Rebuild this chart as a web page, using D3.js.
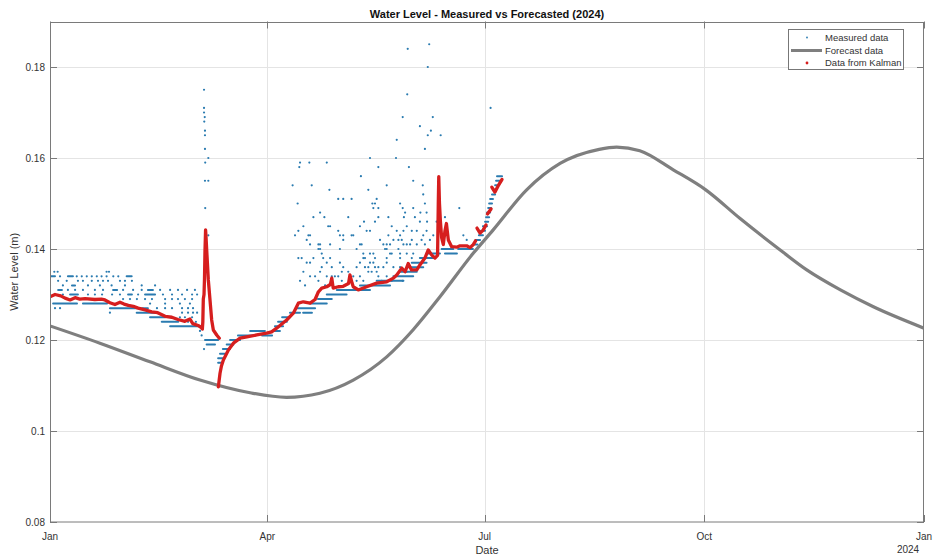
<!DOCTYPE html>
<html>
<head>
<meta charset="utf-8">
<script src="https://cdn.jsdelivr.net/npm/d3@7"></script>
<style>
  body { margin: 0; background: #ffffff; }
  svg { display: block; font-family: "Liberation Sans", Arial, Helvetica, sans-serif; }
</style>
</head>
<body>
<svg id="chart" width="935" height="559"></svg>
<script>
// Times are days counted from 1 Jan 2024 (fractions allowed).

// Forecast curve (m)
const forecastDays  = [0, 20.9, 41.9, 62.8, 83.8, 99, 113, 127, 141, 152, 163.3, 177.3, 185.6, 199.6, 213.6, 230, 237.3, 247, 261, 274.6, 289, 304, 316.9, 331, 344.8, 366];
const forecastLevel = [0.1231, 0.1193, 0.1152, 0.1112, 0.1084, 0.1074, 0.1083, 0.1112, 0.1163, 0.1222, 0.1295, 0.1391, 0.1442, 0.1530, 0.1588, 0.1619, 0.1624, 0.1616, 0.1574, 0.1530, 0.1467, 0.1405, 0.1354, 0.1310, 0.1273, 0.1226];

// Kalman filter output, one array per continuous stretch: [day, level (m)]
const kalmanWinter = [
  [0,0.1295],[2.1,0.1300],[4.5,0.1297],[6.3,0.1292],[8.4,0.1288],[10.5,0.1293],[12.5,0.1290],[14.7,0.1291],
  [18.8,0.1289],[21.5,0.1290],[23.0,0.1288],[25.1,0.1282],[27.2,0.1278],[29.3,0.1283],[31.0,0.1279],[32.8,0.1276],
  [34.9,0.1274],[36.9,0.1270],[39.8,0.1266],[42.6,0.1262],[45.1,0.1260],[48.2,0.1252],[51.0,0.1250],[53.6,0.1245],
  [56.5,0.1241],[58.6,0.1246],[59.8,0.1236],[62.0,0.1232],[63.2,0.1228],[63.8,0.1224],
  [64.0,0.1240],[64.2,0.1290],[64.5,0.1300],[64.7,0.1335],[64.9,0.1395],[65.15,0.1442],[65.3,0.1430],[65.7,0.1390],
  [66.3,0.1332],[67.0,0.1288],[67.7,0.1244],[68.4,0.1222],[69.8,0.1211],[70.9,0.1204]
];
const kalmanSpring = [
  [70.5,0.1097],[70.8,0.1110],[71.2,0.1127],[71.8,0.1143],[72.6,0.1156],[74.7,0.1178],[76.8,0.1193],[79.6,0.1204],
  [82.4,0.1207],[86.6,0.1211],[90.7,0.1215],[92.8,0.1218],[94.9,0.1226],[99.1,0.1244],[101.9,0.1259],[104.0,0.1281],
  [106.1,0.1284],[108.9,0.1281],[111.0,0.1289],[112.4,0.1306],[113.8,0.1314],[115.9,0.1317],[117.4,0.1322],[118.0,0.1336],
  [118.6,0.1314],[120.7,0.1317],[122.8,0.1318],[125.0,0.1324],[125.6,0.1343],[126.5,0.1325],[127.0,0.1317],[129.1,0.1310],
  [132.6,0.1317],[136.8,0.1325],[141.0,0.1328],[143.8,0.1336],[145.2,0.1343],[147.3,0.1358],[148.7,0.1350],[150.0,0.1368],
  [151.4,0.1354],[153.6,0.1354],[154.9,0.1365],[157.0,0.1380],[158.4,0.1398],[159.8,0.1387],[161.2,0.1380],[162.3,0.1386],
  [162.6,0.1500],[162.8,0.1559],[163.1,0.1500],[163.5,0.1460],[164.0,0.1425],[164.7,0.1410],[165.4,0.1440],[166.0,0.1456],
  [166.8,0.1420],[168.2,0.1405],[170.3,0.1404],[171.7,0.1407],[174.5,0.1407],[175.9,0.1403],[177.3,0.1410],[178.2,0.1418]
];
const kalmanJulyA = [[178.8,0.1446],[180.1,0.1435],[181.3,0.1441],[182.6,0.1453]];
const kalmanJulyB = [[183.2,0.1477],[184.7,0.1488]];
const kalmanJulyC = [[185.0,0.1536],[186.3,0.1525],[187.6,0.1538],[189.3,0.1553]];

// Measured readings that repeat for a stretch: [first day, last day, level (mm)]
const measuredRuns = [
  [0,2.1,134],[7.5,9.6,134],[32.1,34.2,134],[1.3,11.3,128],[13.8,23.9,128],[8.4,11.7,130],[32.7,34.3,130],[39.8,44.0,130],
  [3.4,5.0,131],[26.4,28.1,131],[41.0,43.1,131],[9.2,10.5,132],[25.1,36.4,127],[38.5,41.0,127],[36.3,44.8,126],
  [41.9,48.2,125],[46.8,53.7,124],[50.3,62.8,123],
  [64.9,70.4,120],[65.6,69.1,119],
  [70.4,72.0,115],[70.4,72.4,116],[71.2,73.3,117],[72.4,75.4,118],[74.0,76.8,119],[75.4,79.6,120],[78.7,85.8,121],
  [83.8,90.0,122],[88.8,93.0,121],[92.8,96.3,122],[94.2,97.6,123],[95.5,99.2,124],[97.2,100.5,125],[100.5,104.7,126],
  [103.3,111.0,127],[106.0,109.7,126],[108.9,115.9,128],[112.2,118.0,129],[115.9,124.2,130],[120.1,134.0,131],
  [129.8,142.4,132],[136.8,148.0,133],[143.8,152.1,134],[146.6,153.6,135],[149.4,156.3,136],[151.5,157.7,137],
  [154.9,160.5,138],[157.7,163.3,139],[164.0,168.9,140],[165.4,170.4,139],[170.9,177.1,140],
  [177.3,179.0,141],[178.2,180.1,142],[179.6,181.3,143],[180.5,182.2,144],[181.3,183.0,145],[182.2,183.5,146],
  [182.6,183.9,147],[183.0,184.3,148],[183.5,184.7,149],[183.9,185.1,150],[184.3,185.5,151],[185.1,186.4,152],
  [185.5,186.8,153],[186.4,187.6,154],[186.8,188.4,155],[187.2,189.3,156]
];

// Isolated measured readings: [level (mm), days]
const measuredDots = [
  [185,[158.8]],[184,[149.8]],[180,[158.2]],[175,[64.5]],[174,[149.6]],[171,[64.5,184.5]],[170,[64.5]],
  [169,[64.8,147.7,160.3]],[168,[64.6]],[167,[154.9]],[166,[64.9,159.5]],[165,[64.9,158.2,163.6]],[164,[145.2]],
  [162,[64.9,157.0]],[160,[66.3,134.0,144.9]],[159,[65.0,104.7,108.6,115.9]],[158,[104.4,137.5,150.3]],[156,[130.2]],
  [155,[64.9,66.3,152.1]],[154,[101.6,109.6,141.0,156.1]],[153,[117.0,133.3]],[152,[156.3]],
  [151,[120.7,122.8,126.3,136.8]],[150,[103.7,135.0,136.1,146.6,157.0]],[149,[65.0,135.4,137.5,147.7,152.1,171.4]],
  [148,[113.1,148.7,155.1,157.7]],[147,[110.3,114.9,124.9,137.5,141.7,148.2,152.8,165.4]],
  [146,[131.5,136.1,154.9,157.9,161.9]],[145,[106.1,116.5,117.3,129.8,143.1,149.4]],
  [144,[104.0,120.7,132.6,134.0,145.2,148.0,151.5,153.6,157.7]],
  [143,[66.3,102.6,108.2,108.9,121.4,122.8,126.3,127.0,141.7,146.6,156.3,160.5,173.1]],
  [142,[107.5,122.8,138.2,143.8,145.9,147.3,151.5,155.6,159.1,174.5]],
  [141,[108.9,112.4,113.1,117.3,129.8,130.5,139.6,141.0,142.4,148.0,149.4,150.8,153.6,157.0]],
  [140,[112.4,113.1,121.4,128.4,140.3,141.0,145.9]],
  [139,[113.8,131.2,134.0,135.4,142.4,143.1,146.6,149.4,152.1]],
  [138,[104.0,105.4,110.3,114.4,117.3,131.2,131.9,136.1,141.0,146.6,151.5]],
  [137,[107.5,108.9,115.9,121.4,129.8,134.0,135.4,141.0]],
  [136,[113.8,118.0,122.8,128.4,131.9,133.3,136.1,137.5,139.6,143.8,146.6]],
  [135,[0,1.8,3.2,23.7,24.7,106.1,113.1,122.2,124.9,133.3,134.7,136.8,149.4]],
  [134,[4.2,11.2,13.3,15.4,17.5,19.6,21.6,23.7,26.5,28.6,108.9,111.0,115.9,118.0,119.3,120.7,127.0,129.8,137.5,141.0]],
  [133,[3.4,7.0,11.7,13.8,17.5,20.1,22.2,24.3,29.3,31.4,34.3,104.7,112.4,122.2,125.6,128.4,131.2,138.9,143.1,147.7]],
  [132,[0,5.4,15.9,20.9,25.8,31.4,38.4,44.0,106.8,115.2,123.5]],
  [131,[7.5,10.5,13.8,18.8,22.2,30.6,34.8,38.4,46.1,50.3,53.6,57.4,60.7]],
  [130,[2.1,5.4,15.9,18.8,21.8,26.0,29.3,36.9,47.3,51.1,55.3,59.5,61.6]],
  [129,[30.6,33.5,36.4,39.8,42.7,48.2,51.1,53.6,56.5,59.5]],
  [128,[41.9,48.2,54.4,58.6]],
  [127,[2.1,4.2,44.8,48.2,51.1,55.3,57.8,59.9]],
  [126,[25.1,55.3,57.8,59.9,61.6]],
  [125,[54.4,56.5,59.5]],
  [124,[57.8,61.1]],
  [122,[62.8]],[121,[63.5]],[118,[64.5]]
];

// Axis ticks
const yTicks = [0.08, 0.10, 0.12, 0.14, 0.16, 0.18];
const yTickLabels = ["0.08", "0.1", "0.12", "0.14", "0.16", "0.18"];
const xTickDates = ["2024-01-01", "2024-04-01", "2024-07-01", "2024-10-01", "2025-01-01"];
const xTickLabels = ["Jan", "Apr", "Jul", "Oct", "Jan"];
const legendLabels = ["Measured data", "Forecast data", "Data from Kalman"];

// ---- layout ----
const plot = { left: 50, right: 924, top: 21.5, bottom: 522 };
const colMeasured = "#2a7bb0";
const colForecast = "#7f7f7f";
const colKalman = "#d61e1e";
const colAxis = "#7a7a7a";
const colText = "#333333";

const start = new Date(2024, 0, 1);
const dayToDate = d => new Date(start.getTime() + d * 864e5);
const parseDay = d3.timeParse("%Y-%m-%d");

const x = d3.scaleTime().domain([start, new Date(2025, 0, 1)]).range([plot.left, plot.right]);
const y = d3.scaleLinear().domain([0.08, 0.19]).range([plot.bottom, plot.top]);

const svg = d3.select("#chart");

svg.append("defs").append("clipPath").attr("id", "plotClip")
  .append("rect")
  .attr("x", plot.left).attr("y", plot.top)
  .attr("width", plot.right - plot.left).attr("height", plot.bottom - plot.top);

// grid
const grid = svg.append("g").attr("stroke", "#e4e4e4").attr("stroke-width", 1);
grid.selectAll("line.gy").data(yTicks.slice(1)).join("line")
  .attr("x1", plot.left).attr("x2", plot.right)
  .attr("y1", d => Math.round(y(d)) + 0.5).attr("y2", d => Math.round(y(d)) + 0.5);
grid.selectAll("line.gx").data(xTickDates.slice(1, -1)).join("line")
  .attr("y1", plot.top).attr("y2", plot.bottom)
  .attr("x1", d => Math.round(x(parseDay(d))) + 0.5).attr("x2", d => Math.round(x(parseDay(d))) + 0.5);

const data = svg.append("g").attr("clip-path", "url(#plotClip)");

// measured readings
const runs = data.append("g").attr("stroke", colMeasured).attr("stroke-width", 2).attr("stroke-linecap", "round");
runs.selectAll("line").data(measuredRuns).join("line")
  .attr("x1", d => x(dayToDate(d[0]))).attr("x2", d => x(dayToDate(d[1])))
  .attr("y1", d => y(d[2] / 1000)).attr("y2", d => y(d[2] / 1000));

const dotPoints = measuredDots.flatMap(([mm, days]) => days.map(day => [day, mm / 1000]));
data.append("g").attr("fill", colMeasured)
  .selectAll("circle").data(dotPoints).join("circle")
  .attr("cx", d => x(dayToDate(d[0]))).attr("cy", d => y(d[1])).attr("r", 1.1);

// forecast
const forecast = forecastDays.map((d, i) => [d, forecastLevel[i]]);
data.append("path")
  .datum(forecast)
  .attr("fill", "none").attr("stroke", colForecast).attr("stroke-width", 3.2)
  .attr("d", d3.line().x(d => x(dayToDate(d[0]))).y(d => y(d[1])).curve(d3.curveMonotoneX));

// Kalman output
const kalmanLine = d3.line().x(d => x(dayToDate(d[0]))).y(d => y(d[1]));
const kalmanParts = [kalmanWinter, kalmanSpring, kalmanJulyA, kalmanJulyB, kalmanJulyC];
data.append("g").selectAll("path").data(kalmanParts).join("path")
  .attr("fill", "none").attr("stroke", colKalman).attr("stroke-width", 3.3)
  .attr("stroke-linejoin", "round").attr("stroke-linecap", "round")
  .attr("d", kalmanLine);

// axes box
const axes = svg.append("g").attr("stroke", colAxis).attr("stroke-width", 1).attr("fill", "none");
axes.append("rect")
  .attr("x", plot.left + 0.5).attr("y", Math.round(plot.top) + 0.5)
  .attr("width", plot.right - plot.left - 1).attr("height", plot.bottom - Math.round(plot.top) - 0.5);

const tickLen = 7;
axes.selectAll("line.ty").data(yTicks).join("line")
  .attr("x1", plot.left).attr("x2", plot.left + tickLen)
  .attr("y1", d => Math.round(y(d)) + 0.5).attr("y2", d => Math.round(y(d)) + 0.5);
axes.selectAll("line.tyr").data(yTicks).join("line")
  .attr("x1", plot.right - tickLen).attr("x2", plot.right)
  .attr("y1", d => Math.round(y(d)) + 0.5).attr("y2", d => Math.round(y(d)) + 0.5);
axes.selectAll("line.tx").data(xTickDates).join("line")
  .attr("x1", d => Math.round(x(parseDay(d))) + 0.5).attr("x2", d => Math.round(x(parseDay(d))) + 0.5)
  .attr("y1", plot.bottom).attr("y2", plot.bottom - tickLen);
axes.selectAll("line.txt").data(xTickDates).join("line")
  .attr("x1", d => Math.round(x(parseDay(d))) + 0.5).attr("x2", d => Math.round(x(parseDay(d))) + 0.5)
  .attr("y1", plot.top).attr("y2", plot.top + tickLen);

// tick labels
svg.append("g").attr("font-size", 10).attr("fill", colText).attr("text-anchor", "end")
  .selectAll("text").data(yTicks).join("text")
  .attr("x", plot.left - 5).attr("y", d => y(d) + 3.5)
  .text((d, i) => yTickLabels[i]);

svg.append("g").attr("font-size", 10).attr("fill", colText).attr("text-anchor", "middle")
  .selectAll("text").data(xTickDates).join("text")
  .attr("x", d => x(parseDay(d))).attr("y", 540)
  .text((d, i) => xTickLabels[i]);

svg.append("text").attr("x", 908).attr("y", 553).attr("font-size", 10)
  .attr("fill", colText).attr("text-anchor", "middle").text("2024");

// axis titles
svg.append("text").attr("x", (plot.left + plot.right) / 2).attr("y", 554)
  .attr("font-size", 11).attr("fill", colText).attr("text-anchor", "middle").text("Date");
svg.append("text")
  .attr("transform", `translate(18,${(plot.top + plot.bottom) / 2}) rotate(-90)`)
  .attr("font-size", 11).attr("fill", colText).attr("text-anchor", "middle").text("Water Level (m)");

// title
svg.append("text").attr("x", (plot.left + plot.right) / 2).attr("y", 18)
  .attr("font-size", 11).attr("font-weight", "bold").attr("fill", "#111")
  .attr("text-anchor", "middle").text("Water Level - Measured vs Forecasted (2024)");

// legend
const lg = svg.append("g");
lg.append("rect").attr("x", 788.5).attr("y", 29.5).attr("width", 115).attr("height", 40)
  .attr("fill", "#fff").attr("stroke", "#777").attr("stroke-width", 1);
const rowsY = [37.5, 50.5, 63];
lg.append("circle").attr("cx", 807).attr("cy", rowsY[0]).attr("r", 0.9).attr("fill", colMeasured);
lg.append("line").attr("x1", 791).attr("x2", 822).attr("y1", rowsY[1]).attr("y2", rowsY[1])
  .attr("stroke", colForecast).attr("stroke-width", 3);
lg.append("circle").attr("cx", 807).attr("cy", rowsY[2]).attr("r", 1.4).attr("fill", colKalman);
lg.selectAll("text").data(legendLabels).join("text")
  .attr("x", 825).attr("y", (d, i) => rowsY[i] + 3.4)
  .attr("font-size", 9.5).attr("fill", colText).text(d => d);
</script>
</body>
</html>
